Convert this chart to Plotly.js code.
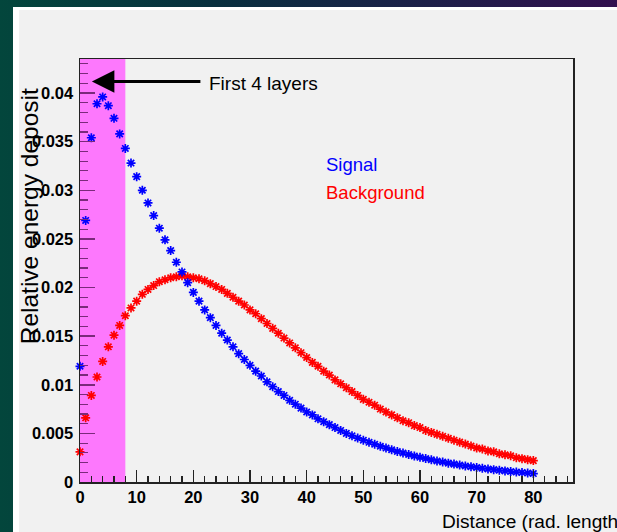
<!DOCTYPE html>
<html>
<head>
<meta charset="utf-8">
<script src="https://cdn.plot.ly/plotly-3.0.1.min.js"></script>
<style>
  html, body { margin: 0; padding: 0; width: 617px; height: 532px; overflow: hidden; }
  body { background: linear-gradient(90deg, #03463c 0%, #082f3e 35%, #1a2148 65%, #33104f 100%); position: relative; }
  #frame { position: absolute; left: 13px; top: 7px; width: 604px; height: 525px; background: #ffffff; }
  #plot { position: absolute; left: 19px; top: 10px; width: 598px; height: 522px; }
</style>
</head>
<body>
<div id="frame"></div>
<div id="plot"></div>
<script>
// Distance in radiation lengths (one point per layer position)
const distance = [0,1,2,3,4,5,6,7,8,9,10,11,12,13,14,15,16,17,18,19,20,
  21,22,23,24,25,26,27,28,29,30,31,32,33,34,35,36,37,38,39,40,
  41,42,43,44,45,46,47,48,49,50,51,52,53,54,55,56,57,58,59,60,
  61,62,63,64,65,66,67,68,69,70,71,72,73,74,75,76,77,78,79,80];

const seriesNames = ["Signal", "Background"];

const signal = [0.0119,0.0269,0.0354,0.0389,0.0396,0.0387,0.0374,0.0358,0.0343,0.0328,0.0314,
  0.0300,0.0287,0.0274,0.0261,0.0249,0.0238,0.0226,0.0216,0.0205,0.0195,
  0.0186,0.0177,0.0169,0.0161,0.0153,0.0146,0.0139,0.0132,0.0126,0.0120,
  0.0114,0.0109,0.0103,0.0098,0.0093,0.0089,0.0084,0.0080,0.0076,0.0072,
  0.0069,0.0065,0.0062,0.0059,0.0056,0.0053,0.0050,0.00475,0.00452,0.0043,
  0.00408,0.00388,0.00368,0.00349,0.00331,0.00314,0.00298,0.00283,0.00268,0.00254,
  0.00241,0.00228,0.00216,0.00205,0.00194,0.00184,0.00174,0.00165,0.00157,0.00149,
  0.00141,0.00134,0.00127,0.00120,0.00114,0.00108,0.00102,0.00097,0.00092,0.00087];

const background = [0.0031,0.0066,0.0089,0.0108,0.0124,0.0139,0.0151,0.0161,0.0171,0.0179,0.0186,
  0.0193,0.0198,0.0202,0.0206,0.0208,0.0210,0.0211,0.0212,0.0211,0.0210,
  0.0209,0.0207,0.0204,0.0201,0.0198,0.0194,0.0190,0.0186,0.0182,0.0177,
  0.0173,0.0168,0.0163,0.0158,0.0153,0.0148,0.0143,0.0138,0.0133,0.0128,
  0.0123,0.0119,0.0114,0.0110,0.0105,0.0101,0.0097,0.0093,0.0089,0.0085,
  0.0082,0.0079,0.0075,0.0072,0.0069,0.0066,0.0063,0.0061,0.0058,0.0056,
  0.0053,0.0051,0.0049,0.0047,0.0045,0.0043,0.0041,0.0039,0.0037,0.0035,
  0.0034,0.0032,0.0031,0.0029,0.0028,0.0027,0.0025,0.0024,0.0023,0.0022];

const colors = ["#0000ff", "#ff0000"];
const layerBand = [0, 8];          // first 4 layers, in radiation lengths
const bandLabel = "First 4 layers";
const xTitle = "Distance (rad. length)";
const yTitle = "Relative energy deposit";

function markerTrace(y, i) {
  return {
    x: distance, y: y, type: "scatter", mode: "markers", name: seriesNames[i],
    showlegend: false, hoverinfo: "skip", cliponaxis: false,
    marker: { symbol: "asterisk-open", size: 7.5, color: colors[i],
              line: { color: colors[i], width: 1.7 } }
  };
}

const traces = [markerTrace(background, 1), markerTrace(signal, 0)];

const tickFont = { family: "Liberation Sans, Arial, sans-serif", size: 16.5, color: "#000", weight: "bold" };
const txtFamily = "Liberation Sans, Arial, sans-serif";

const layout = {
  width: 598, height: 522,
  margin: { l: 61, r: 44, t: 49, b: 49.5, pad: 0 },
  paper_bgcolor: "#f1f1f1", plot_bgcolor: "#f1f1f1",
  showlegend: false,
  xaxis: {
    range: [0, 87], showgrid: false, zeroline: false,
    showline: true, mirror: true, linecolor: "#222", linewidth: 1.5,
    ticks: "inside", ticklen: 12, tickwidth: 1.5, tickcolor: "#222",
    tick0: 0, dtick: 10, tickfont: tickFont, ticklabelstandoff: 0,
    minor: { dtick: 2, ticks: "inside", ticklen: 6, tickwidth: 1.2, tickcolor: "#222", showgrid: false }
  },
  yaxis: {
    range: [0, 0.0435], showgrid: false, zeroline: false,
    showline: true, mirror: true, linecolor: "#222", linewidth: 1.5,
    ticks: "inside", ticklen: 15, tickwidth: 1.5, tickcolor: "#7a2a7a",
    tick0: 0, dtick: 0.005, tickfont: tickFont, ticklabelstandoff: 2,
    minor: { dtick: 0.001, ticks: "inside", ticklen: 8, tickwidth: 1.2, tickcolor: "#7a2a7a", showgrid: false }
  },
  shapes: [{
    type: "rect", xref: "x", yref: "paper", x0: layerBand[0], x1: layerBand[1], y0: 0, y1: 1,
    fillcolor: "#fd78fd", line: { width: 0 }, layer: "below"
  }],
  annotations: [
    { xref: "x", yref: "y", x: 2.1, y: 0.04119, text: "", showarrow: true,
      axref: "pixel", ayref: "pixel", ax: 110, ay: 0,
      arrowhead: 2, arrowsize: 1.5, arrowwidth: 3, arrowcolor: "#000", standoff: 0 },
    { xref: "paper", yref: "paper", x: 0.2637, y: 0.9469, xshift: -3, yshift: -2, text: bandLabel,
      showarrow: false, xanchor: "left", yanchor: "middle",
      font: { family: txtFamily, size: 19, color: "#000" } },
    { xref: "paper", yref: "paper", x: 0.5004, y: 0.7497, xshift: -3, yshift: 0, text: seriesNames[0],
      showarrow: false, xanchor: "left", yanchor: "middle",
      font: { family: txtFamily, size: 18.5, color: colors[0] } },
    { xref: "paper", yref: "paper", x: 0.5004, y: 0.6867, xshift: -3, yshift: -1, text: seriesNames[1],
      showarrow: false, xanchor: "left", yanchor: "middle",
      font: { family: txtFamily, size: 18.5, color: colors[1] } },
    { xref: "paper", yref: "paper", x: 0.7363, y: -0.0933, xshift: -3, text: xTitle,
      showarrow: false, xanchor: "left", yanchor: "middle",
      font: { family: txtFamily, size: 19.1, color: "#000" } },
    { xref: "paper", yref: "paper", x: -0.1008, y: (482.5 - 86) / 423.5, text: yTitle,
      showarrow: false, textangle: -90, xanchor: "center", yanchor: "top",
      font: { family: txtFamily, size: 24.5, color: "#000" } }
  ]
};

Plotly.newPlot("plot", traces, layout, { staticPlot: true, displayModeBar: false });
</script>
</body>
</html>
